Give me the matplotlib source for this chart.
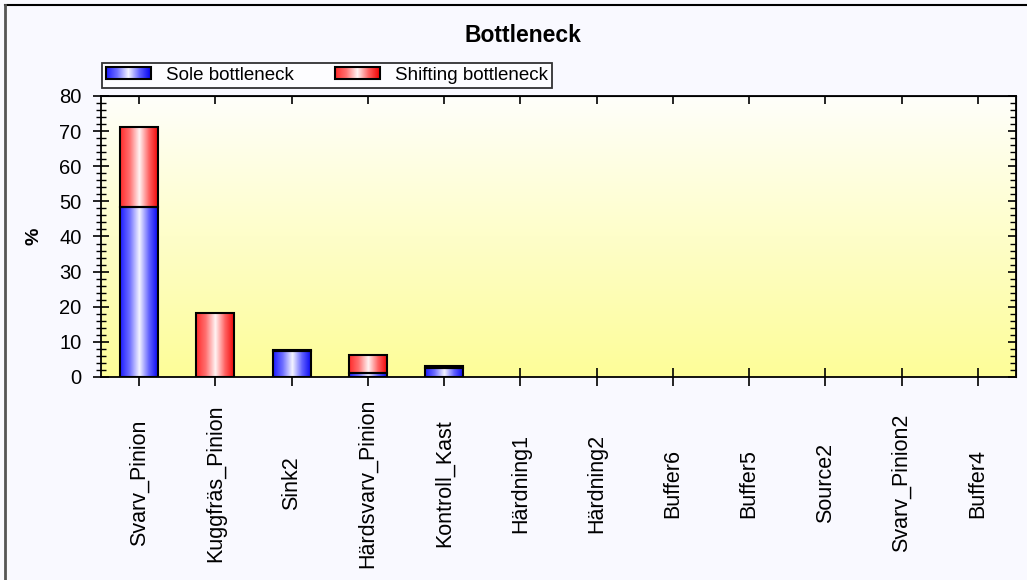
import numpy as np
import matplotlib.pyplot as plt
from matplotlib.colors import LinearSegmentedColormap
from matplotlib.legend_handler import HandlerBase
from matplotlib.image import BboxImage
from matplotlib.transforms import Bbox, TransformedBbox
from matplotlib.patches import Rectangle
from matplotlib.lines import Line2D
from matplotlib.ticker import MultipleLocator

plt.rcParams['font.family'] = ['Liberation Sans', 'DejaVu Sans']

# bottleneck share per station (%)
stations = ['Svarv_Pinion', 'Kuggfräs_Pinion', 'Sink2', 'Härdsvarv_Pinion',
            'Kontroll_Kast', 'Härdning1', 'Härdning2', 'Buffer6', 'Buffer5',
            'Source2', 'Svarv_Pinion2', 'Buffer4']
sole = [48.5, 0.0, 7.3, 1.2, 2.7, 0, 0, 0, 0, 0, 0, 0]
shifting = [22.8, 18.2, 0.3, 5.0, 0.3, 0, 0, 0, 0, 0, 0, 0]

# horizontal shading for the bars: colour at the edges, white in the middle
blue_cmap = LinearSegmentedColormap.from_list(
    'blue_bar', [(0, '#1a1aff'), (0.25, '#7070ff'), (0.5, '#f4f4ff'),
                 (0.75, '#6060ff'), (1, '#0000f0')])
red_cmap = LinearSegmentedColormap.from_list(
    'red_bar', [(0, '#ff2a2a'), (0.25, '#ff7070'), (0.5, '#fff4f4'),
                (0.75, '#ff6060'), (1, '#f00000')])
bg_cmap = LinearSegmentedColormap.from_list('bg', ['#fdfd98', '#fffffb'])

grad = np.linspace(0, 1, 256).reshape(1, -1)


class GradientHandler(HandlerBase):
    def __init__(self, cmap):
        super().__init__()
        self.cmap = cmap

    def create_artists(self, legend, orig_handle, xdescent, ydescent,
                       width, height, fontsize, trans):
        box = Bbox.from_bounds(-xdescent, -ydescent, width, height)
        img = BboxImage(TransformedBbox(box, trans), cmap=self.cmap,
                        interpolation='bilinear')
        img.set_data(grad)
        img.set_clim(0, 1)
        rect = Rectangle((-xdescent, -ydescent), width, height, fill=False,
                         edgecolor='black', linewidth=1.5, transform=trans)
        return [img, rect]


fig = plt.figure(figsize=(10.27, 5.80), dpi=100, facecolor='#f9f9ff')
ax = fig.add_axes([0.0983, 0.35, 0.891, 0.4845])

x = np.arange(len(stations))
sole = np.array(sole)
shifting = np.array(shifting)

# plot background fading from white at the top to pale yellow at the bottom
ax.imshow(bg_cmap(np.linspace(0, 1, 256)).reshape(-1, 1, 4),
          extent=(0, 1, 0, 1), transform=ax.transAxes, aspect='auto',
          origin='lower', zorder=0)

bars_sole = ax.bar(x, sole, width=0.5, facecolor='none', edgecolor='black',
                   linewidth=[1.5 if v > 0 else 0 for v in sole], zorder=3)
bars_shift = ax.bar(x, shifting, width=0.5, bottom=sole, facecolor='none',
                    edgecolor='black',
                    linewidth=[1.5 if v > 0 else 0 for v in shifting], zorder=3)

for bars, cmap in ((bars_sole, blue_cmap), (bars_shift, red_cmap)):
    for r in bars:
        if r.get_height() <= 0:
            continue
        x0, y0 = r.get_x(), r.get_y()
        ax.imshow(grad, cmap=cmap, aspect='auto', interpolation='bilinear',
                  extent=(x0, x0 + r.get_width(), y0, y0 + r.get_height()),
                  zorder=2)

ax.set_xlim(-0.5, len(stations) - 0.5)
ax.set_ylim(0, 80)

ax.set_xticks(x)
ax.set_xticklabels(stations, rotation=90, va='center', ha='center', fontsize=15.5)
ax.tick_params(axis='x', direction='inout', length=13, width=1.2, pad=70)
ax.yaxis.set_major_locator(MultipleLocator(10))
ax.yaxis.set_minor_locator(MultipleLocator(2))
ax.tick_params(axis='y', which='major', direction='inout', length=12,
               width=1.2, labelsize=14.5, pad=8)
ax.tick_params(axis='y', which='minor', direction='inout', length=7, width=1.0)
for s in ax.spines.values():
    s.set_linewidth(1.3)

top = ax.secondary_xaxis('top')
top.set_xticks(x)
top.set_xticklabels([])
top.tick_params(direction='in', length=6, width=1.2)
right = ax.secondary_yaxis('right')
right.yaxis.set_major_locator(MultipleLocator(10))
right.yaxis.set_minor_locator(MultipleLocator(2))
right.set_yticklabels([])
right.tick_params(which='major', direction='in', length=6, width=1.2)
right.tick_params(which='minor', direction='in', length=4, width=1.0)

ax.set_ylabel('%', fontsize=14, fontweight='bold')
ax.yaxis.set_label_coords(-0.064, 0.5)

fig.text(523 / 1027, 1 - 35 / 580, 'Bottleneck', ha='center', va='center',
         fontsize=16.5, fontweight='bold')

h_sole = Rectangle((0, 0), 1, 1)
h_shift = Rectangle((0, 0), 1, 1)
leg = fig.legend([h_sole, h_shift], ['Sole bottleneck', 'Shifting bottleneck'],
                 handler_map={h_sole: GradientHandler(blue_cmap),
                              h_shift: GradientHandler(red_cmap)},
                 loc='upper left', bbox_to_anchor=(102 / 1027, 1 - 63 / 580),
                 ncol=2, fontsize=13.5, frameon=True, fancybox=False,
                 borderaxespad=0, borderpad=0.2, handlelength=2.4,
                 handleheight=0.65, handletextpad=0.8, columnspacing=2.2)
leg.get_frame().set_edgecolor('black')
leg.get_frame().set_linewidth(1.3)
leg.get_frame().set_facecolor('white')

# window frame along the top and left edges
fig.add_artist(Line2D([5 / 1027, 1], [1 - 5 / 580, 1 - 5 / 580],
                      transform=fig.transFigure, color='black', linewidth=1.5))
fig.add_artist(Line2D([5 / 1027, 5 / 1027], [0, 1 - 5 / 580],
                      transform=fig.transFigure, color='#555555', linewidth=2.0))

fig.savefig('out.png', dpi=100, facecolor=fig.get_facecolor())
